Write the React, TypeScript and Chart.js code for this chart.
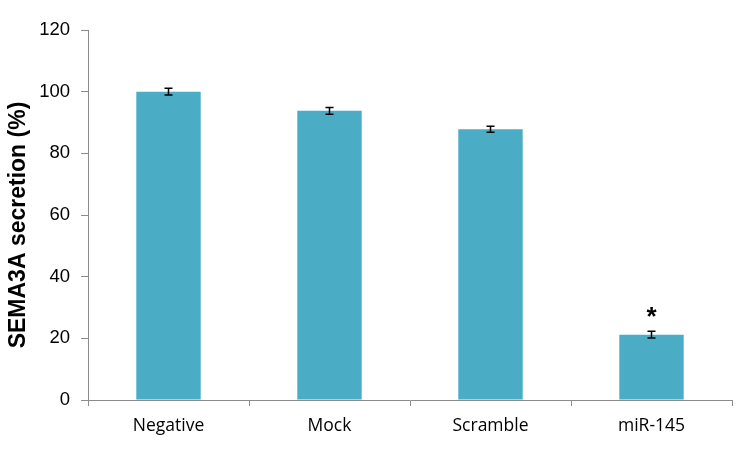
import React, { useEffect, useRef } from "react";
import { Chart, registerables } from "chart.js";

Chart.register(...registerables);

const categories = ["Negative", "Mock", "Scramble", "miR-145"];
const values = [100, 93.8, 87.8, 21.2];
const errors = [1.1, 1.1, 1.0, 1.1];
const marks = ["", "", "", "*"];
const yTicks = [0, 20, 40, 60, 80, 100, 120];
const yTitle = "SEMA3A secretion (%)";

const errorPlugin = {
  id: "errorBars",
  afterDatasetsDraw(chart: any) {
    const ctx = chart.ctx;
    const meta = chart.getDatasetMeta(0);
    const y = chart.scales.y;
    ctx.save();
    meta.data.forEach((bar: any, i: number) => {
      const x = bar.x;
      const top = y.getPixelForValue(values[i] + errors[i]);
      const bot = y.getPixelForValue(values[i] - errors[i]);
      ctx.strokeStyle = "#000";
      ctx.lineWidth = 1.5;
      ctx.beginPath();
      ctx.moveTo(x, top);
      ctx.lineTo(x, bot);
      ctx.moveTo(x - 4, top);
      ctx.lineTo(x + 4, top);
      ctx.moveTo(x - 4, bot);
      ctx.lineTo(x + 4, bot);
      ctx.stroke();
      if (marks[i]) {
        ctx.fillStyle = "#000";
        ctx.font = "bold 26px 'Liberation Sans', Arial, sans-serif";
        ctx.textAlign = "center";
        ctx.textBaseline = "middle";
        ctx.fillText(marks[i], x, top - 13);
      }
    });
    // y-axis title
    ctx.translate(19, 225);
    ctx.rotate(-Math.PI / 2);
    ctx.fillStyle = "#000";
    ctx.font = "bold 23px 'Liberation Sans', Arial, sans-serif";
    ctx.textAlign = "center";
    ctx.textBaseline = "middle";
    ctx.fillText(yTitle, 0, 0);
    ctx.restore();
  },
};

export default function App() {
  const ref = useRef<HTMLCanvasElement>(null);
  useEffect(() => {
    document.body.style.margin = "0";
    const chart = new Chart(ref.current!, {
      type: "bar",
      data: {
        labels: categories,
        datasets: [
          {
            data: values,
            backgroundColor: "#4BACC6",
            categoryPercentage: 0.4,
            barPercentage: 1,
          },
        ],
      },
      options: {
        animation: false,
        responsive: false,
        layout: { padding: { left: 0, right: 7, top: 30, bottom: 0 } },
        plugins: { legend: { display: false }, tooltip: { enabled: false } },
        scales: {
          x: {
            grid: {
              display: true,
              drawOnChartArea: false,
              drawTicks: true,
              tickLength: 6,
              color: "#8c8c8c",
              offset: true,
            },
            border: { color: "#8c8c8c", width: 1 },
            ticks: {
              color: "#000",
              padding: 10,
              font: { family: "'Open Sans', sans-serif", size: 17.5 },
            },
            afterFit: (s: any) => {
              s.height = 50;
            },
          },
          y: {
            min: 0,
            max: 120,
            afterBuildTicks: (s: any) => {
              s.ticks = yTicks.map((v) => ({ value: v }));
            },
            grid: {
              display: true,
              drawOnChartArea: false,
              drawTicks: true,
              tickLength: 7,
              color: "#8c8c8c",
            },
            border: { color: "#8c8c8c", width: 1 },
            ticks: {
              color: "#000",
              padding: 11,
              font: { family: "'Liberation Sans', Arial, sans-serif", size: 18.5 },
            },
            afterFit: (s: any) => {
              s.width = 88;
            },
          },
        },
      },
      plugins: [errorPlugin],
    });
    return () => chart.destroy();
  }, []);
  return <canvas ref={ref} width={739} height={450} />;
}
